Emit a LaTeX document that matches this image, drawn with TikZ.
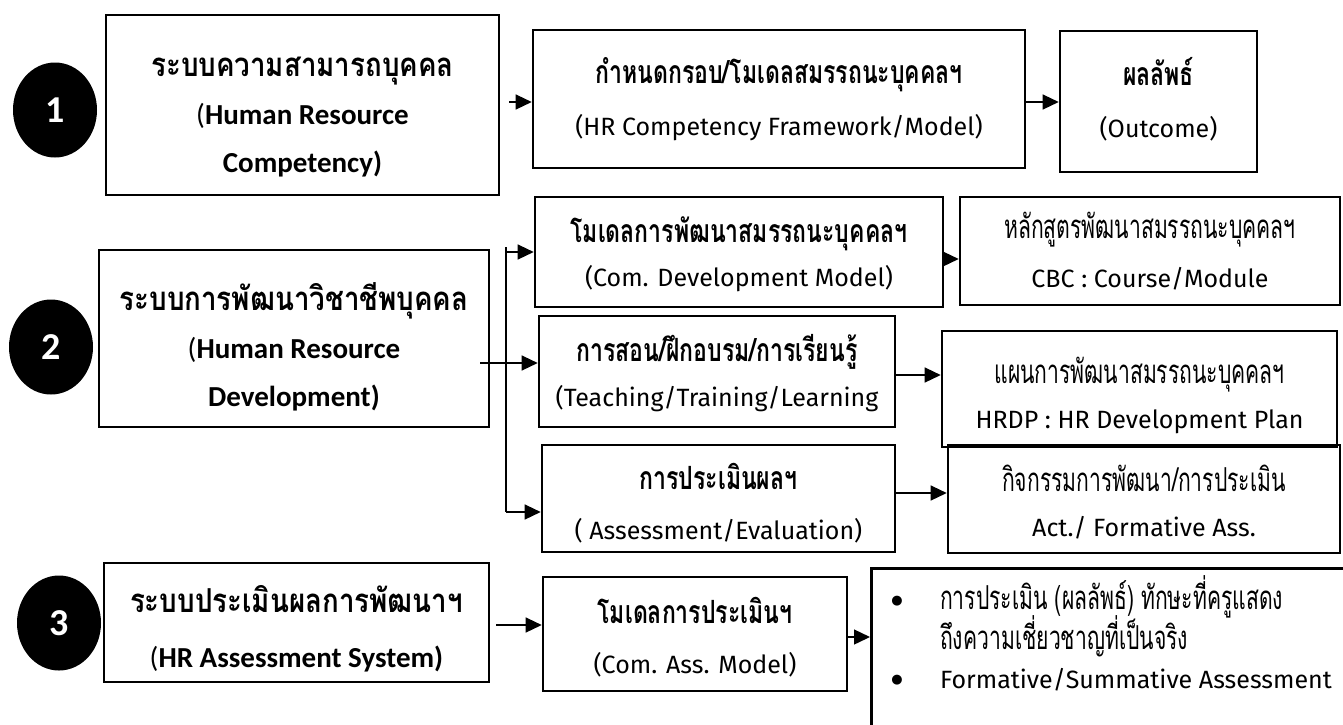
\documentclass[tikz,border=0pt]{standalone}
\usepackage{fontspec}
\usetikzlibrary{arrows.meta,shapes.geometric}
\newfontfamily\thaiL[Script=Thai, FakeStretch=0.84]{Loma}
\newfontfamily\thaiB[Script=Thai, FakeStretch=0.72]{Loma}
\newfontfamily\thaiR[Script=Thai, FakeStretch=0.64]{Loma}
\newfontfamily\latfont{Fira Sans}
\newfontfamily\carlfont{Carlito}
\newfontfamily\symfont{DejaVu Sans}

% type sizes of the different kinds of label
\newcommand\sysTh{\thaiL\bfseries\fontsize{33}{48}\selectfont}
\newcommand\sysEn{\carlfont\bfseries\fontsize{29}{48}\selectfont}
\newcommand\midTh{\thaiB\bfseries\fontsize{32}{48}\selectfont}
\newcommand\rgtTh{\thaiR\fontsize{33}{48}\selectfont}
\newcommand\midEn{\latfont\fontsize{25}{48}\selectfont}
\newcommand\lstTh{\thaiR\fontsize{33}{40}\selectfont}

\tikzset{
  box/.style={draw, rectangle, line width=2.6pt, inner sep=0pt},
  txt/.style={align=center, inner sep=0pt, font=\fontsize{25}{#1}\selectfont},
  arr/.style={-{Triangle[length=16pt,width=15pt]}, line width=1.3pt},
  trunk/.style={line width=1.3pt},
  badge/.style={ellipse, fill=black, minimum width=84pt, minimum height=95pt,
    inner sep=0pt, text=white, font=\carlfont\bfseries\fontsize{38}{38}\selectfont},
}

\begin{document}
\begin{tikzpicture}[x=1pt,y=-1pt]
\useasboundingbox (0,0) rectangle (1343,724);
\clip (0,0) rectangle (1343,724);

% numbered badges
\node[badge] (n1) at (55,110) {1};
\node[badge] (n2) at (51,347) {2};
\node[badge] (n3) at (59,623) {3};

% frames
\node[box, minimum width=393pt, minimum height=180pt] (comp) at (302.5,105) {};
\node[box, minimum width=390pt, minimum height=177pt] (dev) at (294,338.5) {};
\node[box, minimum width=385pt, minimum height=119pt] (ass) at (296.5,622.5) {};
\node[box, minimum width=492pt, minimum height=138pt] (frame) at (779,99) {};
\node[box, minimum width=197pt, minimum height=141pt] (out) at (1158.5,101.5) {};
\node[box, minimum width=408pt, minimum height=110pt] (A) at (739,252) {};
\node[box, minimum width=356pt, minimum height=111pt] (B) at (717,371.5) {};
\node[box, minimum width=353pt, minimum height=107pt] (E) at (718.5,498.5) {};
\node[box, minimum width=380pt, minimum height=108pt] (C) at (1150,251) {};
\node[box, minimum width=395pt, minimum height=116pt] (D) at (1139.5,389) {};
\node[box, minimum width=392pt, minimum height=108pt] (F) at (1144,499) {};
\node[box, minimum width=304pt, minimum height=114pt] (G) at (695,634) {};
\node[box, anchor=north west, minimum width=600pt, minimum height=300pt] (H) at (870,567) {};

% labels of the frames
\node[txt=48] (comp-t) at ([yshift=-12pt]comp.center)
  {{\sysTh ระบบความสามารถบุคคล}\\{\sysEn{\mdseries(}Human Resource}\\{\sysEn Competency)}};
\node[txt=48] (dev-t) at ([yshift=-8pt]dev.center)
  {{\sysTh ระบบการพัฒนาวิชาชีพบุคคล}\\{\sysEn{\mdseries(}Human Resource}\\{\sysEn Development)}};
\node[txt=55] (ass-t) at ([yshift=-6pt]ass.center)
  {{\sysTh ระบบประเมินผลการพัฒนาฯ}\\{\sysEn{\mdseries(}HR Assessment System)}};
\node[txt=52] (frame-t) at (frame.center)
  {{\midTh กำหนดกรอบ/โมเดลสมรรถนะบุคคลฯ}\\{\midEn (HR Competency Framework/Model)}};
\node[txt=52] (out-t) at ([yshift=2pt]out.center)
  {{\midTh ผลลัพธ์}\\{\midEn (Outcome)}};
\node[txt=44] (A-t) at ([yshift=-2pt]A.center)
  {{\midTh โมเดลการพัฒนาสมรรถนะบุคคลฯ}\\{\midEn (Com. Development Model)}};
\node[txt=45] (B-t) at ([yshift=-2pt]B.center)
  {{\midTh การสอน/ฝึกอบรม/การเรียนรู้}\\{\midEn (Teaching/Training/Learning}};
\node[txt=50] (E-t) at ([yshift=-5pt]E.center)
  {{\midTh การประเมินผลฯ}\\{\midEn ( Assessment/Evaluation)}};
\node[txt=49] (C-t) at (C.center)
  {{\rgtTh หลักสูตรพัฒนาสมรรถนะบุคคลฯ}\\{\midEn CBC : Course/Module}};
\node[txt=45] (D-t) at ([yshift=-6pt]D.center)
  {{\rgtTh แผนการพัฒนาสมรรถนะบุคคลฯ}\\{\midEn HRDP : HR Development Plan}};
\node[txt=45] (F-t) at ([yshift=-3pt]F.center)
  {{\rgtTh กิจกรรมการพัฒนา/การประเมิน}\\{\midEn Act./ Formative Ass.}};
\node[txt=50] (G-t) at ([yshift=-3pt]G.center)
  {{\midTh โมเดลการประเมินฯ}\\{\midEn (Com. Ass. Model)}};

% bullet list
\node[inner sep=0pt] (b1) at (897,601) {\symfont\fontsize{13}{13}\selectfont ●};
\node[inner sep=0pt, anchor=base west] (t1) at (940,609) {\lstTh การประเมิน (ผลลัพธ์) ทักษะที่ครูแสดง};
\node[inner sep=0pt, anchor=base west] (t2) at (940,649) {\lstTh ถึงความเชี่ยวชาญที่เป็นจริง};
\node[inner sep=0pt] (b2) at (897,680) {\symfont\fontsize{13}{13}\selectfont ●};
\node[inner sep=0pt, anchor=base west] (t3) at (940,688) {\midEn Formative/Summative Assessment};

% connector levels
\coordinate (y1) at (0,102);
\coordinate (yA) at (0,252);
\coordinate (yB) at (0,363);
\coordinate (yAC) at (0,259);
\coordinate (yBD) at (0,375);
\coordinate (yEF) at (0,493);
\coordinate (yG) at (0,625);
\coordinate (yH) at (0,637);
\coordinate (v1) at (506,247);
\coordinate (v2) at (506,512);

% row 1 connectors
\draw[arr] (comp.east |- y1) ++(9,0) -- (frame.west |- y1);
\draw[arr] (frame.east |- y1) -- (out.west |- y1);

% row 2 branching
\draw[trunk] (v1) -- (v2);
\draw[arr] (v1 |- yA) -- (A.west |- yA);
\draw[arr] (dev.east |- yB) ++(-10,0) -- (B.west |- yB);
\draw[arr] (v2) -- (E.west |- v2);
\draw[arr] (A.east |- yAC) -- (C.west |- yAC);
\draw[arr] (B.east |- yBD) -- (D.west |- yBD);
\draw[arr] (E.east |- yEF) -- (F.west |- yEF);

% row 3 connectors
\draw[arr] (ass.east |- yG) ++(6,0) -- (G.west |- yG);
\draw[arr] (G.east |- yH) -- (H.west |- yH);
\end{tikzpicture}
\end{document}
